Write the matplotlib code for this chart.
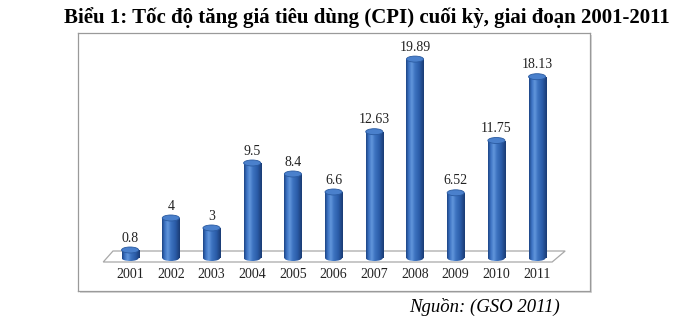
import numpy as np
import matplotlib
matplotlib.use('Agg')
import matplotlib.pyplot as plt
from matplotlib.patches import Ellipse, Polygon, Rectangle

# ── Data ──
years = ['2001', '2002', '2003', '2004', '2005', '2006',
         '2007', '2008', '2009', '2010', '2011']
cpi = [0.8, 4, 3, 9.5, 8.4, 6.6, 12.63, 19.89, 6.52, 11.75, 18.13]
value_labels = ['0.8', '4', '3', '9.5', '8.4', '6.6',
                '12.63', '19.89', '6.52', '11.75', '18.13']

title = 'Biểu 1: Tốc độ tăng giá tiêu dùng (CPI) cuối kỳ, giai đoạn 2001-2011'
source = 'Nguồn: (GSO 2011)'

SERIF = ['Liberation Serif', 'DejaVu Serif']

fig = plt.figure(figsize=(6.89, 3.33), dpi=100)
fig.patch.set_facecolor('white')

# frame shadow
shadow = Rectangle((80 / 689, (333 - 293) / 333), 512 / 689, 258 / 333,
                   transform=fig.transFigure, facecolor='#d8d8d8',
                   edgecolor='none', zorder=-1)
fig.patches.append(shadow)

ax = fig.add_axes([78 / 689, (333 - 291) / 333, 512 / 689, 258 / 333])
ax.set_zorder(1)
ax.set_facecolor('white')
for sp in ax.spines.values():
    sp.set_color('#9a9a9a')
    sp.set_linewidth(0.9)
ax.set_xticks([])
ax.set_yticks([])

x = np.arange(len(years))
bw = 0.42

# ── floor ──
floor = Polygon([(-0.66, -0.4), (10.37, -0.4), (10.69, 0.7), (-0.42, 0.7)],
                closed=True, facecolor='white', edgecolor='#a8a8a8',
                linewidth=0.9, zorder=1)
ax.add_patch(floor)

# ── cylinders ──
grad = np.array([0.0, 0.15, 0.32, 0.5, 0.75, 1.0])
cols = np.array([
    [0x1d, 0x45, 0x85],
    [0x3c, 0x72, 0xc2],
    [0x62, 0x96, 0xdc],
    [0x3d, 0x73, 0xc0],
    [0x2b, 0x5c, 0xa8],
    [0x1a, 0x3c, 0x74],
]) / 255.0
t = np.linspace(0, 1, 64)
img = np.stack([np.interp(t, grad, cols[:, c]) for c in range(3)], axis=-1)[None, :, :]

bars = ax.bar(x, cpi, width=bw, bottom=0, color='#3a6fc0',
              edgecolor='none', zorder=3)
eh = 0.6
for xi, v, b in zip(x, cpi, bars):
    im = ax.imshow(img, extent=(xi - bw / 2, xi + bw / 2, 0, v),
                   aspect='auto', zorder=3.1, interpolation='bilinear')
    im.set_clip_path(b)
    # rounded bottom with gradient
    be = Ellipse((xi, 0), bw, eh, facecolor='none', edgecolor='none')
    ax.add_patch(be)
    im2 = ax.imshow(img, extent=(xi - bw / 2, xi + bw / 2, -eh / 2, 0),
                    aspect='auto', zorder=3.0, interpolation='bilinear')
    im2.set_clip_path(be)
    # top cap
    ax.add_patch(Ellipse((xi, v), bw, eh, facecolor='#4a80cc',
                         edgecolor='#2a5aa0', linewidth=0.6, zorder=4))

# ── labels ──
for xi, v, lab in zip(x, cpi, value_labels):
    ax.text(xi, v + 0.55, lab, ha='center', va='bottom', fontsize=10,
            family=SERIF, color='#222222', zorder=5)
for xi, yr in zip(x, years):
    ax.text(xi, -1.6, yr, ha='center', va='center', fontsize=10,
            family=SERIF, color='#222222')

ax.set_xlim(-1.28, 11.30)
ax.set_ylim(-3.3, 22.5)

fig.text(367 / 689, 1 - 18 / 333, title, ha='center', va='center',
         fontsize=15, fontweight='bold', family=SERIF)
fig.text(485 / 689, 1 - 307 / 333, source, ha='center', va='center',
         fontsize=13.5, style='italic', family=SERIF)

fig.savefig('out.png', dpi=100, facecolor='white')
plt.close(fig)
